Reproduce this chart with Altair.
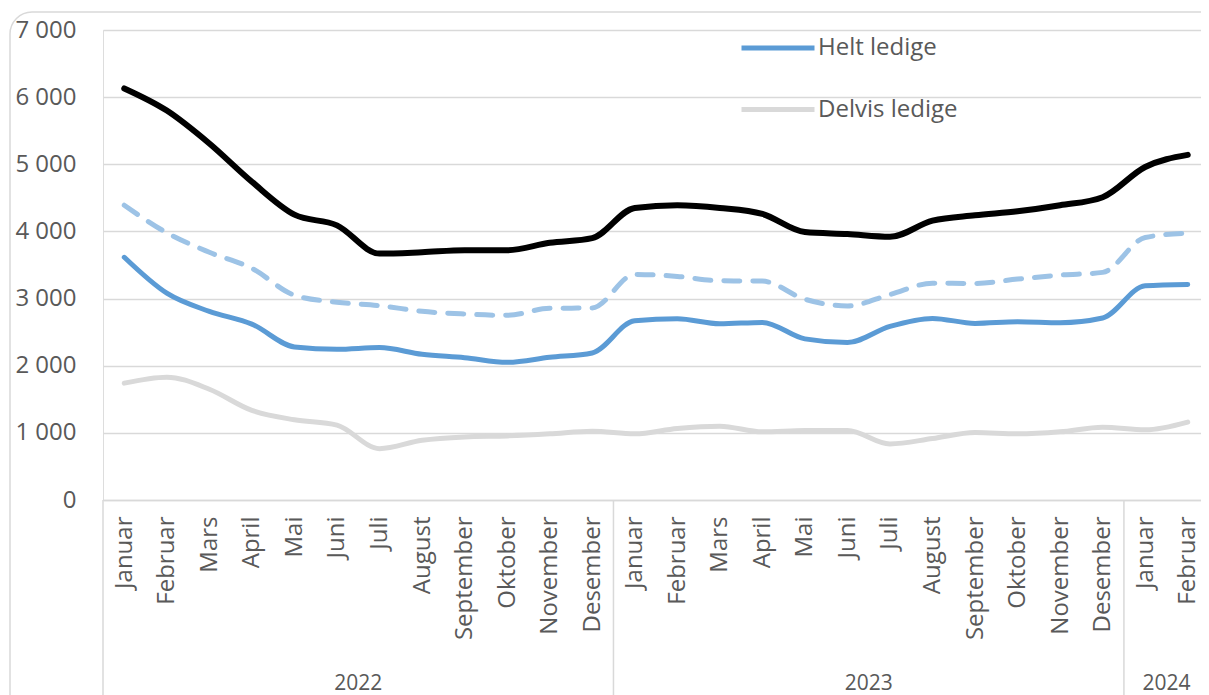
import altair as alt
import pandas as pd

# ---- data ----
months = ["Januar", "Februar", "Mars", "April", "Mai", "Juni", "Juli", "August",
          "September", "Oktober", "November", "Desember"]
month_labels = months + months + ["Januar", "Februar"]
years = ["2022", "2023", "2024"]
year_months = [12, 12, 2]

serie_total = [6130, 5800, 5310, 4740, 4250, 4090, 3670, 3690, 3720, 3720, 3830, 3900,
               4350, 4390, 4350, 4260, 3990, 3960, 3920, 4160, 4240, 4300, 4390, 4510,
               4960, 5140]
serie_stiplet = [4390, 3980, 3690, 3450, 3050, 2945, 2895, 2810, 2770, 2750, 2855, 2860,
                 3360, 3330, 3265, 3260, 2990, 2890, 3060, 3230, 3225, 3290, 3350, 3390,
                 3910, 3975]
helt_ledige = [3615, 3080, 2810, 2620, 2280, 2245, 2270, 2170, 2120, 2050, 2125, 2190,
               2670, 2700, 2625, 2645, 2400, 2345, 2585, 2705, 2630, 2655, 2640, 2710,
               3190, 3210]
delvis_ledige = [1740, 1830, 1650, 1335, 1195, 1115, 765, 890, 940, 955, 985, 1025,
                 985, 1065, 1100, 1015, 1035, 1035, 835, 915, 1005, 985, 1015, 1085,
                 1045, 1160]

legend_names = ["Helt ledige", "Delvis ledige"]
legend_colors = ["#5B9BD5", "#D9D9D9"]

FONT = "Open Sans"
TXT = "#595959"
GRID = "#D9D9D9"

n = len(month_labels)
idx = list(range(n))

df_main = pd.DataFrame({
    "i": idx + idx,
    "serie": [legend_names[0]] * n + [legend_names[1]] * n,
    "verdi": helt_ledige + delvis_ledige,
})
df_total = pd.DataFrame({"i": idx, "verdi": serie_total})
df_dash = pd.DataFrame({"i": idx, "verdi": serie_stiplet})

# year group boundaries and centres
starts = []
s = 0
for c in year_months:
    starts.append(s)
    s += c
df_sep = pd.DataFrame({"i": [st - 0.5 for st in starts]})
df_year = pd.DataFrame({"i": [st + c / 2 - 0.5 for st, c in zip(starts, year_months)],
                        "label": years})
df_one = pd.DataFrame({"a": [0]})

# the category axis runs a little past the right edge of the picture (as in the source)
x_scale = alt.Scale(domain=[-0.5, n - 0.5], nice=False, zero=False, range=[0, 1106])
y_scale = alt.Scale(domain=[0, 7000], nice=False)

month_expr = "[" + ",".join(f"'{m}'" for m in month_labels) + "][datum.value]"
x_axis = alt.Axis(values=idx, labelExpr=month_expr, labelAngle=-90, title=None,
                  grid=False, ticks=False, domainColor=GRID, domainWidth=1.5,
                  labelFont=FONT, labelFontSize=24, labelColor=TXT, labelPadding=16,
                  labelOverlap=False, labelFlush=False, labelBound=False)
y_axis = alt.Axis(values=[0, 1000, 2000, 3000, 4000, 5000, 6000, 7000],
                  labelExpr="replace(format(datum.value, ','), ',', ' ')",
                  title=None, domain=False, ticks=False, grid=True, gridColor=GRID,
                  gridWidth=1.5, labelFont=FONT, labelFontSize=24, labelColor=TXT,
                  labelPadding=27)

X = alt.X("i:Q", scale=x_scale, axis=x_axis)
Y = alt.Y("verdi:Q", scale=y_scale, axis=y_axis)

border = alt.Chart(df_one).mark_rect(
    fill="transparent", stroke=GRID, strokeWidth=1.5, cornerRadius=22
).encode(x=alt.value(-93), x2=alt.value(1130), y=alt.value(-18), y2=alt.value(700))

seps = alt.Chart(df_sep).mark_rule(color=GRID, strokeWidth=1.5).encode(
    x=X, y=alt.value(470), y2=alt.value(700))

year_text = alt.Chart(df_year).mark_text(
    font=FONT, fontSize=21, color=TXT, baseline="middle", align="center"
).encode(x=X, y=alt.value(654), text="label:N")

dash_line = alt.Chart(df_dash).mark_line(
    color="#9DC3E6", strokeWidth=5, strokeDash=[16, 13], strokeCap="round",
    interpolate="monotone"
).encode(x=X, y=Y)

main_lines = alt.Chart(df_main).mark_line(
    strokeWidth=5, strokeCap="round", interpolate="monotone"
).encode(
    x=X, y=Y,
    color=alt.Color("serie:N",
                    scale=alt.Scale(domain=legend_names, range=legend_colors),
                    sort=legend_names,
                    legend=alt.Legend(title=None, orient="none", legendX=636, legendY=-21,
                                      symbolType="stroke", symbolSize=5329,
                                      symbolStrokeWidth=5, labelFont=FONT,
                                      labelFontSize=24, labelColor=TXT, labelOffset=1,
                                      rowPadding=10.5, padding=0, offset=0)),
)

total_line = alt.Chart(df_total).mark_line(
    color="#000000", strokeWidth=6, strokeCap="round", interpolate="monotone"
).encode(x=X, y=Y)

chart = alt.layer(border, seps, year_text, dash_line, main_lines, total_line).properties(
    width=1098, height=470,
    autosize=alt.AutoSizeParams(type="none"),
    padding={"left": 95, "top": 22, "right": 0, "bottom": 195},
).configure_view(stroke=None).configure(background="white")

chart.save("out.html", embed_options={"renderer": "svg", "actions": False})
